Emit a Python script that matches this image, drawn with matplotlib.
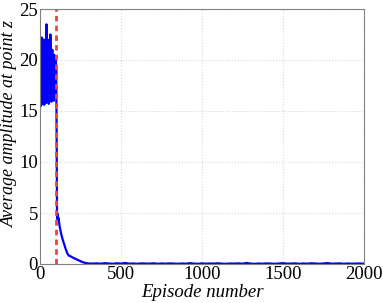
import matplotlib
matplotlib.use("Agg")
import matplotlib.pyplot as plt

# exploration phase (episodes 0-100)
explore_ep = list(range(0, 102, 2))
explore_amp = [21.5, 16.0, 22.0, 15.5, 21.0, 18.0, 22.2, 15.7, 21.8, 17.0,
               22.0, 16.0, 20.5, 15.6, 21.9, 18.5, 22.0, 16.2, 20.0, 15.8,
               23.5, 17.0, 21.0, 16.0, 22.0, 18.0, 19.5, 15.7, 21.0, 17.5,
               20.5, 16.5, 22.5, 17.0, 19.0, 15.9, 20.0, 18.0, 21.0, 16.5,
               20.0, 17.0, 19.5, 16.0, 20.5, 17.5, 19.0, 16.8, 20.0, 18.0, 19.0]

# learning phase decay
decay_ep = [103, 105, 107, 109, 112, 115, 120, 125, 130, 140, 150, 160,
            170, 180, 190, 200, 220, 240, 260, 280, 300]
decay_amp = [12.0, 5.3, 4.4, 4.9, 4.3, 4.5, 3.8, 3.4, 3.0, 2.4, 1.9, 1.4,
             1.0, 0.8, 0.75, 0.65, 0.5, 0.35, 0.2, 0.1, 0.05]

# converged tail
tail_ep = list(range(325, 2001, 25))
tail_amp = [0.04, 0.06, 0.03, 0.08, 0.05, 0.02, 0.07, 0.04, 0.1, 0.03,
            0.05, 0.02, 0.06, 0.04, 0.03, 0.07, 0.02, 0.05, 0.03, 0.06,
            0.04, 0.02, 0.05, 0.03, 0.08, 0.04, 0.02, 0.06, 0.03, 0.05,
            0.04, 0.07, 0.03, 0.02, 0.05, 0.04, 0.06, 0.03, 0.1, 0.04,
            0.02, 0.05, 0.03, 0.06, 0.04, 0.02, 0.05, 0.08, 0.03, 0.04,
            0.06, 0.02, 0.05, 0.03, 0.07, 0.04, 0.02, 0.05, 0.09, 0.03,
            0.04, 0.06, 0.02, 0.05, 0.03, 0.04, 0.05, 0.03]

episodes = explore_ep + decay_ep + tail_ep
amplitude = explore_amp + decay_amp + tail_amp[:len(tail_ep)]
switch_ep = 100

plt.rcParams['font.family'] = 'Liberation Serif'

fig = plt.figure(figsize=(3.83, 3.03), dpi=100)
ax = fig.add_axes([40 / 383, 1 - 264 / 303, 324 / 383, 255 / 303])

ax.plot(episodes, amplitude, color='#0000ff', lw=1.6)
ax.axvline(switch_ep, color='#e8463a', ls=(0, (2, 1.5)), lw=2)

ax.set_xlim(0, 2000)
ax.set_ylim(0, 25)
ax.set_xticks([0, 500, 1000, 1500, 2000])
ax.set_yticks([0, 5, 10, 15, 20, 25])
ax.tick_params(length=0, labelsize=13.5, pad=1.5)
ax.grid(True, color='#d8d8d8', ls=':', lw=0.8)
for s in ax.spines.values():
    s.set_color('#808080')

ax.set_xlabel('Episode number', fontsize=13.5, style='italic', labelpad=1)
ax.set_ylabel('Average amplitude at point z', fontsize=13, style='italic')
ax.yaxis.set_label_coords(-0.068, 0.55)

fig.savefig('out.png', dpi=100)
